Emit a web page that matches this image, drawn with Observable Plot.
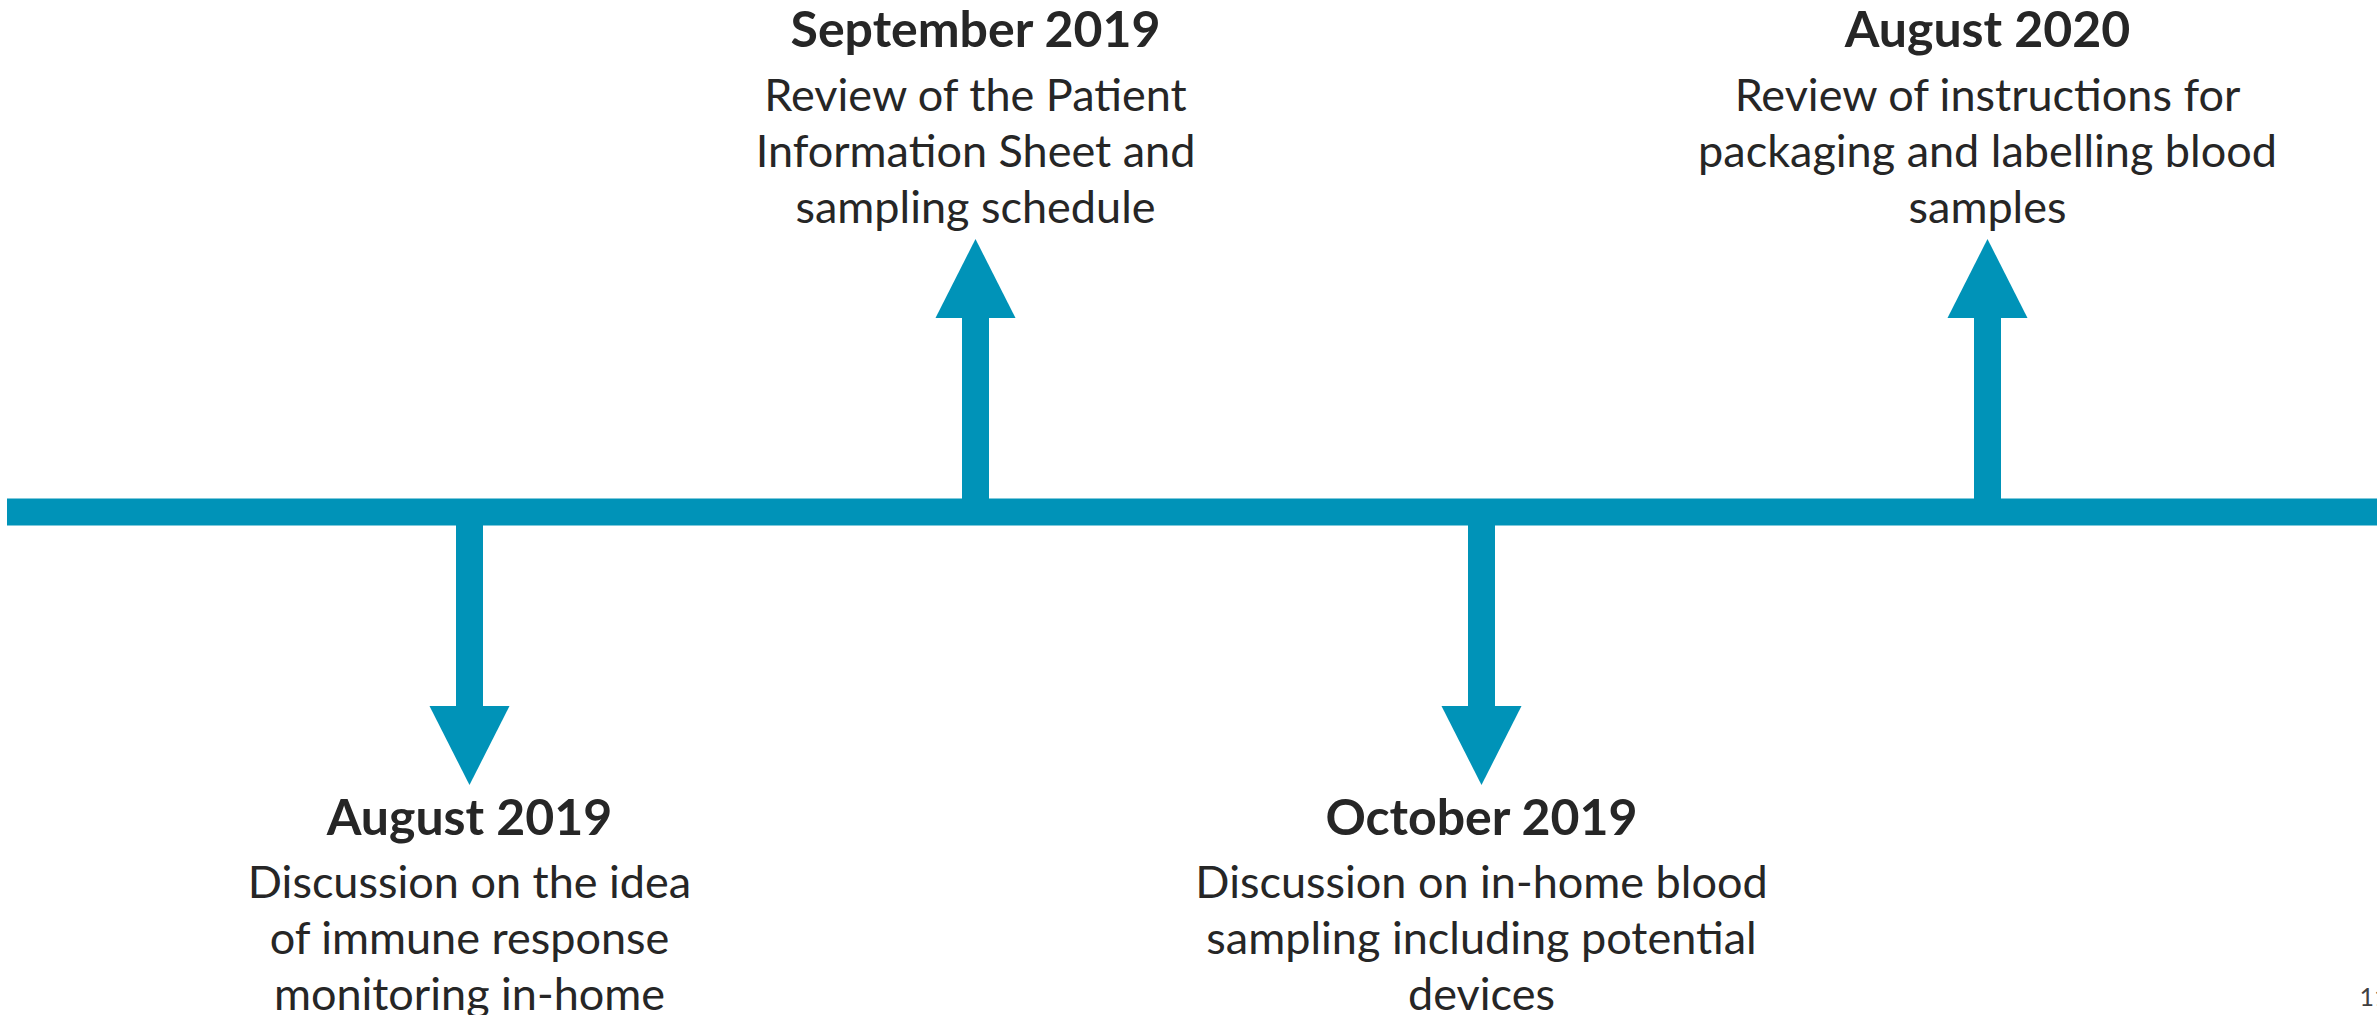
<!DOCTYPE html>
<html>
<head>
<meta charset="utf-8">
<script src="https://cdn.jsdelivr.net/npm/d3@7"></script>
<script src="https://cdn.jsdelivr.net/npm/@observablehq/plot@0.6"></script>
<style>
  html, body { margin: 0; padding: 0; background: #ffffff; }
  svg { display: block; }
</style>
</head>
<body>
<div id="chart"></div>
<script>
// ---- data ----
const events = ["August 2019", "September 2019", "October 2019", "August 2020"];
const sides = ["down", "up", "down", "up"];
const descriptions = [
  "Discussion on the idea\nof immune response\nmonitoring in-home",
  "Review of the Patient\nInformation Sheet and\nsampling schedule",
  "Discussion on in-home blood\nsampling including potential\ndevices",
  "Review of instructions for\npackaging and labelling blood\nsamples"
];
const pageNumber = ["11"];

// ---- table built from the arrays ----
const data = events.map((event, i) => ({event, side: sides[i], description: descriptions[i]}));
const dir = d => (d.side === "up" ? 1 : -1);

// ---- layout / style constants ----
const W = 2377, H = 1015;
const BLUE = "#0093B8";
const INK = "#262626";
const BAR = 27;           // timeline thickness
const STEM_END = 194;     // offset of arrow-head base from timeline centre
const HEAD = 79;          // arrow-head length
const TITLE_Y = 501;      // offset of title top from timeline centre
const BODY_Y = 441;       // offset of description top
const DOWN_TITLE_Y = -287;
const DOWN_BODY_Y = -346;

function triangle(pointUp) {
  return {
    draw(context, size) {
      const r = Math.sqrt(size / Math.PI);
      const h = r * HEAD / 80;
      const s = pointUp ? -1 : 1;
      context.moveTo(-r, -s * h);
      context.lineTo(r, -s * h);
      context.lineTo(0, s * h);
      context.closePath();
    }
  };
}

const chart = Plot.plot({
  width: W,
  height: H,
  marginTop: 0,
  marginBottom: 0,
  marginLeft: 7,
  marginRight: 0,
  style: {background: "#ffffff", fontFamily: "Lato, 'Open Sans', sans-serif"},
  x: {type: "point", domain: events, range: [468, 1988], padding: 0, axis: null},
  y: {type: "linear", domain: [-503.5, 511.5], axis: null},
  marks: [
    Plot.ruleY([0], {stroke: BLUE, strokeWidth: BAR}),
    Plot.ruleX(data, {x: "event", y1: 0, y2: d => dir(d) * (STEM_END + 1), stroke: BLUE, strokeWidth: BAR}),
    Plot.dot(data.filter(d => d.side === "up"), {
      x: "event", y: d => STEM_END + HEAD / 2, r: 40, symbol: triangle(true), fill: BLUE, stroke: "none"
    }),
    Plot.dot(data.filter(d => d.side === "down"), {
      x: "event", y: d => -(STEM_END + HEAD / 2), r: 40, symbol: triangle(false), fill: BLUE, stroke: "none"
    }),
    Plot.text(data, {
      x: "event", y: d => (d.side === "up" ? TITLE_Y : DOWN_TITLE_Y), text: "event",
      fontSize: 50, fontWeight: "bold", fill: INK, lineAnchor: "top", textAnchor: "middle"
    }),
    Plot.text(data, {
      x: "event", y: d => (d.side === "up" ? BODY_Y : DOWN_BODY_Y), text: "description",
      fontSize: 45, lineHeight: 1.25, fill: INK, lineAnchor: "top", textAnchor: "middle"
    }),
    Plot.text(pageNumber, {
      frameAnchor: "bottom-right", text: d => d, textAnchor: "start",
      dx: -18, dy: -10, fontSize: 25, fill: "#404040"
    })
  ]
});
document.getElementById("chart").appendChild(chart);
</script>
</body>
</html>
